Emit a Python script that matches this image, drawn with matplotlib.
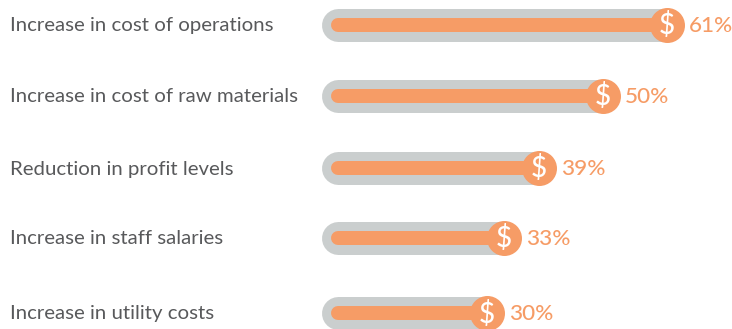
import matplotlib
matplotlib.use("Agg")
from matplotlib import pyplot

labels = ["Increase in cost of operations", "Increase in cost of raw materials",
          "Reduction in profit levels", "Increase in staff salaries",
          "Increase in utility costs"]
values = [61, 50, 39, 33, 30]

ORANGE = "#F69C66"
GREY = "#CACECE"
TEXT = "#58595B"
PX = 72 / 100  # points per pixel at dpi 100

pyplot.rcParams["font.family"] = "Lato"

fig = pyplot.figure(figsize=(7.32, 3.29), dpi=100)

# x axis runs in percent, 0 sits at pixel 312 and 1% is 5.82 px
ax = fig.add_axes([312 / 732, 0, 1 - 312 / 732, 1])
ax.set_xlim(0, (732 - 312) / 5.82)
ax.set_ylim(329, 0)
ax.axis("off")

row_y = [24.5, 96, 168, 238, 313]
bar_start = 4.4

for name, v, y in zip(labels, values, row_y):
    ax.plot([bar_start, v], [y, y], color=GREY, lw=33 * PX,
            solid_capstyle="round", zorder=1)
    ax.plot([bar_start, v], [y, y], color=ORANGE, lw=14 * PX,
            solid_capstyle="round", zorder=2)
    ax.plot([v], [y], "o", color=ORANGE, ms=35 * PX, mew=0, zorder=3)
    ax.text(v, y + 1, "$", color="white", fontsize=20, fontweight="medium",
            ha="center", va="center", zorder=4)
    ax.annotate(f"{v}%", xy=(v, y + 1), xytext=(22 * PX, 0),
                textcoords="offset points", color=ORANGE, fontsize=16.2,
                fontweight="medium", ha="left", va="center",
                annotation_clip=False)
    # category names live in the left margin, outside the percent axis
    fig.text(10 / 732, 1 - (y + 1) / 329, name, color=TEXT, fontsize=14.7,
             ha="left", va="center")

fig.savefig("out.png", dpi=100)
